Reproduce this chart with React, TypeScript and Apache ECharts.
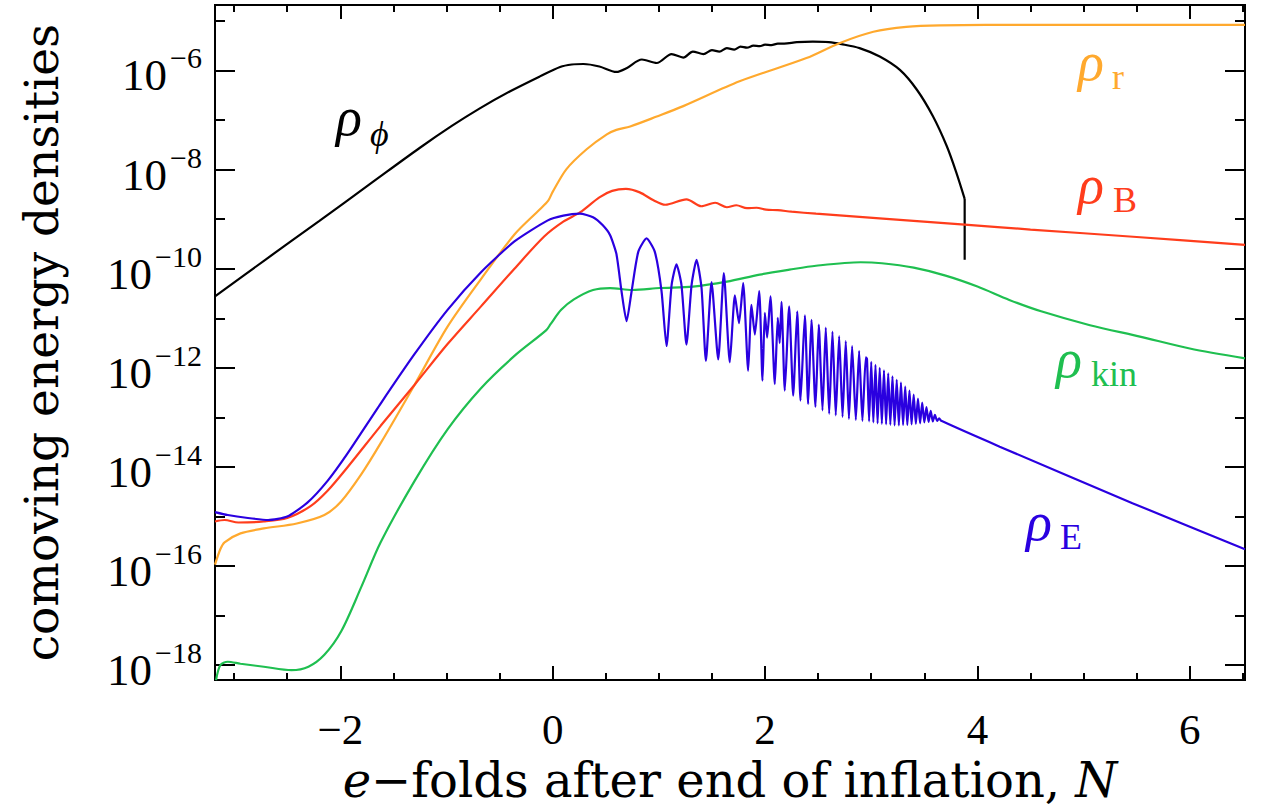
import React, { useEffect, useRef } from "react";
import * as echarts from "echarts";

// N (e-folds) vs log10(comoving energy density)
const rhoPhi: [number, number][] = [
  [-3.18, -10.56], [-2.7, -9.81], [-2.2, -9.04], [-1.7, -8.26], [-1.25, -7.56],
  [-0.95, -7.12], [-0.69, -6.77], [-0.4, -6.42], [-0.12, -6.12], [0.07, -5.93],
  [0.18, -5.88], [0.29, -5.87], [0.44, -5.92], [0.6, -6.03], [0.7, -5.95],
  [0.84, -5.78], [0.98, -5.85], [1.12, -5.67], [1.23, -5.74], [1.32, -5.62],
  [1.42, -5.67], [1.5, -5.59], [1.57, -5.62], [1.64, -5.55], [1.71, -5.58],
  [1.77, -5.52], [1.83, -5.54], [1.89, -5.5], [1.95, -5.51], [2.0, -5.48],
  [2.06, -5.49], [2.12, -5.46], [2.18, -5.46], [2.3, -5.43], [2.45, -5.42],
  [2.6, -5.43], [2.72, -5.47], [2.89, -5.55], [3.08, -5.72], [3.27, -5.99],
  [3.43, -6.39], [3.58, -6.92], [3.71, -7.52], [3.8, -8.05], [3.88, -8.59],
];
const rhoPhiDrop: [number, number][] = [[3.88, -8.59], [3.88, -9.82]];

const rhoR: [number, number][] = [
  [-3.18, -15.97], [-3.13, -15.66], [-3.09, -15.52], [-2.94, -15.34], [-2.72, -15.24],
  [-2.41, -15.14], [-2.15, -14.97], [-1.99, -14.69], [-1.8, -14.14], [-1.62, -13.52],
  [-1.3, -12.34], [-0.99, -11.17], [-0.675, -10.21], [-0.36, -9.31], [-0.12, -8.8],
  [-0.04, -8.62], [0.0, -8.45], [0.13, -7.99], [0.32, -7.59], [0.51, -7.29],
  [0.6, -7.2], [0.73, -7.13], [0.98, -6.93], [1.23, -6.72], [1.76, -6.22],
  [2.39, -5.75], [2.7, -5.45], [3.02, -5.22], [3.33, -5.12], [3.65, -5.09],
  [4.5, -5.08], [6.52, -5.08],
];

const rhoB: [number, number][] = [
  [-3.18, -15.1], [-3.09, -15.07], [-2.96, -15.12], [-2.72, -15.1], [-2.5, -15.03],
  [-2.28, -14.79], [-2.12, -14.48], [-1.93, -14.0], [-1.62, -13.17], [-1.3, -12.34],
  [-0.99, -11.52], [-0.675, -10.76], [-0.36, -10.0], [-0.08, -9.35], [0.1, -9.05],
  [0.26, -8.86], [0.44, -8.56], [0.56, -8.43], [0.69, -8.39], [0.82, -8.46],
  [0.95, -8.62], [1.06, -8.71], [1.26, -8.6], [1.4, -8.74], [1.53, -8.67],
  [1.64, -8.76], [1.73, -8.72], [1.83, -8.78], [1.92, -8.77], [2.01, -8.81],
  [2.12, -8.82], [2.25, -8.85], [2.48, -8.89], [3.11, -8.99], [3.88, -9.11],
  [4.5, -9.21], [5.5, -9.36], [6.52, -9.52],
];

const rhoKin: [number, number][] = [
  [-3.17, -18.3], [-3.13, -18.0], [-3.06, -17.93], [-2.94, -17.97], [-2.72, -18.03],
  [-2.46, -18.1], [-2.3, -18.03], [-2.15, -17.79], [-1.99, -17.31], [-1.8, -16.41],
  [-1.62, -15.52], [-1.3, -14.28], [-0.99, -13.24], [-0.675, -12.41], [-0.36, -11.76],
  [-0.06, -11.24], [-0.02, -11.12], [0.08, -10.83], [0.2, -10.62], [0.38, -10.43],
  [0.54, -10.39], [0.75, -10.43], [1.01, -10.39], [1.32, -10.36], [1.64, -10.26],
  [1.95, -10.12], [2.23, -10.02], [2.48, -9.94], [2.9, -9.87], [3.1, -9.89],
  [3.4, -9.98], [3.7, -10.14], [4.0, -10.36], [4.3, -10.63], [4.6, -10.86],
  [5.06, -11.14], [5.53, -11.37], [6.0, -11.61], [6.52, -11.81],
];

const rhoE: [number, number][] = [
  [-3.18, -14.91], [-3.06, -14.97], [-2.87, -15.03], [-2.68, -15.07], [-2.5, -15.0],
  [-2.31, -14.72], [-2.12, -14.28], [-1.93, -13.72], [-1.62, -12.72], [-1.3, -11.72],
  [-0.99, -10.83], [-0.675, -10.07], [-0.36, -9.45], [-0.05, -9.03], [0.1, -8.93],
  [0.256, -8.89], [0.38, -8.96], [0.47, -9.12], [0.54, -9.32], [0.6, -9.7],
  [0.648, -10.45], [0.696, -11.06], [0.743, -10.46], [0.806, -9.66], [0.884, -9.39],
  [0.962, -9.66], [1.025, -10.45], [1.072, -11.56], [1.12, -10.33], [1.166, -9.91],
  [1.213, -10.33], [1.26, -11.53], [1.308, -10.33], [1.355, -9.82], [1.402, -10.39],
  [1.443, -11.86], [1.496, -10.27], [1.559, -11.83], [1.612, -10.09], [1.668, -11.89],
  [1.716, -10.54], [1.755, -11.1], [1.794, -10.29], [1.841, -12.06], [1.872, -10.73],
  [1.904, -11.33], [1.945, -10.45], [1.976, -12.26], [1.998, -10.89], [2.02, -11.39],
  [2.051, -10.56], [2.092, -12.33], [2.12, -10.99], [2.138, -11.5], [2.155, -10.67],
  [2.186, -12.46], [2.227, -10.76], [2.265, -12.56], [2.303, -10.86], [2.334, -12.66],
  [2.375, -10.94], [2.406, -12.73], [2.437, -11.03], [2.475, -12.79], [2.506, -11.13],
  [2.541, -12.86], [2.572, -11.19], [2.604, -12.93], [2.635, -11.27], [2.666, -12.96],
  [2.698, -11.36], [2.73, -12.99], [2.76, -11.46], [2.79, -13.03], [2.82, -11.56],
  [2.855, -13.05], [2.886, -11.66], [2.917, -13.07], [2.949, -11.79], [2.96, -11.82],
  [2.98, -13.08], [3.0, -11.88], [3.02, -13.1], [3.04, -11.94], [3.06, -13.12],
  [3.08, -12.0], [3.1, -13.13], [3.12, -12.05], [3.14, -13.14], [3.16, -12.11],
  [3.18, -13.15], [3.2, -12.17], [3.22, -13.16], [3.24, -12.24], [3.26, -13.16],
  [3.28, -12.3], [3.3, -13.15], [3.32, -12.38], [3.34, -13.15], [3.36, -12.46],
  [3.38, -13.14], [3.4, -12.54], [3.42, -13.13], [3.44, -12.62], [3.46, -13.12],
  [3.48, -12.7], [3.5, -13.1], [3.52, -12.79], [3.54, -13.09], [3.56, -12.87],
  [3.58, -13.08], [3.6, -12.95], [3.62, -13.07], [3.64, -13.02], [3.66, -13.07],
  [4.21, -13.59], [5.46, -14.73], [6.52, -15.66],
];

const xMajorTicks = [-2, 0, 2, 4, 6];
const xMinorTicks = [-3, -2.5, -1.5, -1, -0.5, 0.5, 1, 1.5, 2.5, 3, 3.5, 4.5, 5, 5.5, 6.5];
const yMajorTicks = [-18, -16, -14, -12, -10, -8, -6];
const yMinorTicks = [-17, -15, -13, -11, -9, -7, -5];

const X_MIN = -3.18;
const X_MAX = 6.52;
const Y_MIN = -18.3;
const Y_MAX = -4.68;

const C_BLACK = "#000000";
const C_ORANGE = "#ffa92e";
const C_RED = "#ff3d1c";
const C_GREEN = "#1fbf50";
const C_BLUE = "#2a00e0";

const FONT_NUM = "'Liberation Serif', 'DejaVu Serif', serif";
const FONT_TXT = "'DejaVu Serif', serif";

const curveLabels = [
  { main: "ρ", sub: "ϕ", color: C_BLACK, x: 336, y: 133, sx: 370, sy: 145 },
  { main: "ρ", sub: "r", color: C_ORANGE, x: 1078, y: 78, sx: 1112, sy: 88 },
  { main: "ρ", sub: "B", color: C_RED, x: 1078, y: 201, sx: 1113, sy: 211 },
  { main: "ρ", sub: "kin", color: C_GREEN, x: 1056, y: 375, sx: 1091, sy: 385 },
  { main: "ρ", sub: "E", color: C_BLUE, x: 1026, y: 538, sx: 1060, sy: 548 },
];

function makeXAxis(pos: "bottom" | "top", ticks: number[], len: number, labels: boolean) {
  return {
    type: "value",
    position: pos,
    min: X_MIN,
    max: X_MAX,
    axisLine: { show: false, onZero: false },
    splitLine: { show: false },
    axisTick: {
      show: true,
      inside: true,
      length: len,
      customValues: ticks,
      lineStyle: { color: "#000", width: 2 },
    },
    axisLabel: labels
      ? {
          show: true,
          customValues: xMajorTicks,
          margin: 28,
          color: "#000",
          fontFamily: FONT_NUM,
          fontSize: 43,
          formatter: (v: number) => (v < 0 ? "−" + Math.abs(v) : String(v)),
        }
      : { show: false },
  };
}

function makeYAxis(pos: "left" | "right", ticks: number[], len: number, labels: boolean) {
  return {
    type: "value",
    position: pos,
    min: Y_MIN,
    max: Y_MAX,
    axisLine: { show: false, onZero: false },
    splitLine: { show: false },
    axisTick: {
      show: true,
      inside: true,
      length: len,
      customValues: ticks,
      lineStyle: { color: "#000", width: 2 },
    },
    axisLabel: labels
      ? {
          show: true,
          customValues: yMajorTicks,
          margin: 13,
          formatter: (v: number) => `{b|10}{s|−${Math.abs(v)}}`,
          rich: {
            b: { fontFamily: FONT_NUM, fontSize: 45, color: "#000", padding: [10, 0, 0, 0] },
            s: { fontFamily: FONT_NUM, fontSize: 30, color: "#000", verticalAlign: "top", padding: [0, 0, 0, 3] },
          },
        }
      : { show: false },
  };
}

export default function App() {
  const ref = useRef<HTMLDivElement>(null);
  useEffect(() => {
    if (!ref.current) return;
    const chart = echarts.init(ref.current, undefined, { renderer: "svg" });
    const line = (data: [number, number][], color: string, smooth: number | boolean, z = 2) => ({
      type: "line",
      data,
      xAxisIndex: 0,
      yAxisIndex: 0,
      showSymbol: false,
      symbol: "none",
      smooth,
      z,
      lineStyle: { color, width: 2.2 },
      emphasis: { disabled: true },
    });
    const xAxis0 = makeXAxis("bottom", xMajorTicks, 14, true) as any;
    xAxis0.name = "{i|e}−folds after end of inflation, {i|N}";
    xAxis0.nameLocation = "middle";
    xAxis0.nameGap = 74;
    xAxis0.nameTextStyle = {
      fontFamily: FONT_TXT,
      fontSize: 48,
      color: "#000",
      rich: { i: { fontFamily: FONT_TXT, fontSize: 48, fontStyle: "italic", color: "#000" } },
    };
    const yAxis0 = makeYAxis("left", yMajorTicks, 20, true) as any;
    yAxis0.name = "comoving energy densities";
    yAxis0.nameLocation = "middle";
    yAxis0.nameGap = 150;
    yAxis0.nameTextStyle = { fontFamily: FONT_TXT, fontSize: 47, color: "#000" };

    const graphics: any[] = [];
    curveLabels.forEach((l) => {
      graphics.push({
        type: "text",
        x: l.x,
        y: l.y - 16,
        style: {
          text: l.main,
          fill: l.color,
          font: `italic 54px ${FONT_NUM}`,
          textAlign: "left",
          textVerticalAlign: "middle",
        },
      });
      graphics.push({
        type: "text",
        x: l.sx,
        y: l.sy - 11,
        style: {
          text: l.sub,
          fill: l.color,
          font: `${l.sub === "ϕ" ? "italic " : ""}36px ${FONT_NUM}`,
          textAlign: "left",
          textVerticalAlign: "middle",
        },
      });
    });

    chart.setOption({
      animation: false,
      backgroundColor: "#fff",
      grid: {
        left: 215,
        right: 16,
        top: 5,
        bottom: 124,
        containLabel: false,
        show: true,
        borderColor: "#000",
        borderWidth: 2,
        backgroundColor: "transparent",
      },
      xAxis: [
        xAxis0,
        makeXAxis("bottom", xMinorTicks, 7, false),
        makeXAxis("top", xMajorTicks, 14, false),
        makeXAxis("top", xMinorTicks, 7, false),
      ],
      yAxis: [
        yAxis0,
        makeYAxis("left", yMinorTicks, 10, false),
        makeYAxis("right", yMajorTicks, 20, false),
        makeYAxis("right", yMinorTicks, 10, false),
      ],
      series: [
        line(rhoPhi, C_BLACK, 0.3),
        line(rhoPhiDrop, C_BLACK, false),
        line(rhoR, C_ORANGE, 0.3),
        line(rhoB, C_RED, 0.3),
        line(rhoKin, C_GREEN, 0.3),
        line(rhoE, C_BLUE, 0.2, 3),
      ],
      graphic: graphics,
    });
    return () => chart.dispose();
  }, []);
  return (
    <div
      ref={ref}
      style={{ position: "fixed", left: 0, top: 0, width: 1261, height: 809, background: "#fff" }}
    />
  );
}
